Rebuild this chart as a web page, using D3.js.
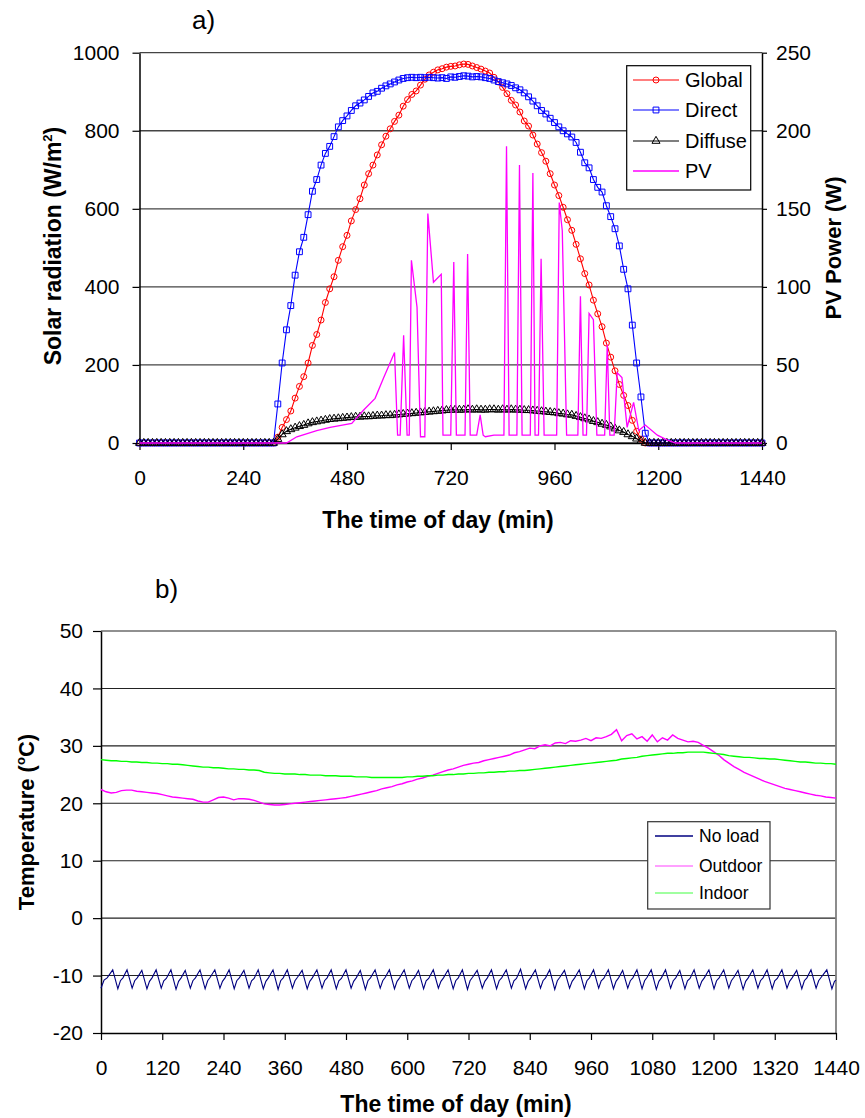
<!DOCTYPE html>
<html><head><meta charset="utf-8">
<script src="https://cdn.jsdelivr.net/npm/d3@7"></script>
<style>
body{margin:0;background:#fff;}
text{font-family:"Liberation Sans",Arial,sans-serif;fill:#000;}
</style></head><body>
<svg id="c" width="865" height="1118"></svg>
<script>
// ---------- DATA (chart a: 10-minute records, 0..1440 min) ----------
const radTicks = [0,200,400,600,800,1000];
const pvTicks = [0,50,100,150,200,250];
const timeTicksA = [0,240,480,720,960,1200,1440];
const seriesA = ["Global","Direct","Diffuse","PV"];

const globalRad = [
 0,0,0,0,0,0,0,0,0,0,0,0,
 0,0,0,0,0,0,0,0,0,0,0,0,
 0,0,0,0,0,0,0,0,15,40,60,82,
 115,145,170,205,250,278,315,360,395,426,468,503,
 532,569,598,626,661,690,712,738,764,786,805,824,
 840,863,880,893,902,917,932,943,950,956,959,963,
 965,966,969,971,970,966,962,958,953,948,937,925,
 911,895,878,866,848,825,812,789,766,744,722,690,
 661,634,604,572,545,509,472,434,405,366,331,298,
 256,220,185,150,122,96,58,30,10,0,0,0,
 0,0,0,0,0,0,0,0,0,0,0,0,
 0,0,0,0,0,0,0,0,0,0,0,0,
 0];
const directRad = [
 0,0,0,0,0,0,0,0,0,0,0,0,
 0,0,0,0,0,0,0,0,0,0,0,0,
 0,0,0,0,0,0,0,0,100,205,290,352,
 430,490,527,585,645,675,712,742,760,785,810,826,
 838,852,864,871,879,888,897,901,909,915,920,925,
 930,934,936,937,936,937,936,937,936,935,936,934,
 938,937,939,941,940,938,939,938,936,934,930,926,
 923,920,916,910,905,897,887,876,864,852,843,832,
 821,810,800,792,784,770,745,718,705,675,655,643,
 608,580,549,505,445,395,302,205,118,25,0,0,
 0,0,0,0,0,0,0,0,0,0,0,0,
 0,0,0,0,0,0,0,0,0,0,0,0,
 0];
const diffuseRad = [
 0,0,0,0,0,0,0,0,0,0,0,0,
 0,0,0,0,0,0,0,0,0,0,0,0,
 0,0,0,0,0,0,0,0,10,22,30,35,
 39,43,46,50,53,55,57,59,61,62,63,64,
 65,66,67,67,68,68,69,70,70,71,71,72,
 73,74,75,76,77,78,79,80,81,82,83,84,
 85,85,85,85,86,85,86,85,85,86,86,85,
 86,85,86,85,85,84,84,83,82,81,80,79,
 78,76,75,73,72,69,66,63,60,56,53,49,
 46,42,37,32,28,22,17,11,5,0,0,0,
 0,0,0,0,0,0,0,0,0,0,0,0,
 0,0,0,0,0,0,0,0,0,0,0,0,
 0];
// PV power (W): irregular samples
const pvTime  = [0,340,364,410,441,491,518,545,565,590,597,603,611,619,624,629,642,650,660,667,680,698,702,720,727,733,753,759,765,780,788,795,800,820,843,849,855,873,879,885,904,910,915,923,929,936,965,971,978,988,1014,1020,1026,1034,1040,1050,1058,1076,1082,1088,1098,1105,1116,1128,1143,1155,1170,1198,1220,1240,1440];
const pvPower = [0,0,4,8,10,12.6,21,28.6,42,58,5,5,69,5,5,117,87,4,4,147,103,108,5,5,116,5,5,121,5,5,18,5,4,5,5,190,5,5,178,5,5,173,5,5,118,5,5,154,136,5,5,94,5,5,83,79,5,5,63,5,5,45,42,10,26,8,11.5,5,2,0,0];

// ---------- DATA (chart b) ----------
const tempTicks = [-20,-10,0,10,20,30,40,50];
const timeTicksB = [0,120,240,360,480,600,720,840,960,1080,1200,1320,1440];
const seriesB = ["No load","Outdoor","Indoor"];
const outdoorTemp = [
 22.4,22.0,21.8,21.9,22.2,22.3,22.3,22.1,22.0,21.9,21.8,21.7,
 21.5,21.3,21.1,21.0,20.9,20.8,20.7,20.4,20.2,20.2,20.6,21.0,
 21.1,20.9,20.6,20.8,20.8,20.7,20.5,20.2,19.9,19.8,19.7,19.7,
 19.8,19.9,20.0,20.1,20.2,20.3,20.4,20.5,20.6,20.7,20.8,20.9,
 21.0,21.2,21.4,21.6,21.8,22.0,22.2,22.5,22.7,22.9,23.2,23.4,
 23.7,23.9,24.2,24.4,24.7,24.9,25.2,25.5,25.8,26.0,26.3,26.6,
 26.8,27.0,27.1,27.4,27.6,27.8,28.0,28.2,28.4,28.8,29.0,29.3,
 29.6,29.5,30.0,30.2,30.0,30.5,30.6,30.4,30.9,30.8,31.0,31.3,
 30.9,31.4,31.3,31.6,32.0,32.8,30.9,31.8,32.1,31.2,31.6,30.8,
 31.9,30.7,31.4,31.0,31.9,31.3,31.0,30.7,30.8,30.6,30.1,29.6,
 29.0,28.4,27.6,27.0,26.4,25.9,25.4,25.0,24.6,24.2,23.8,23.5,
 23.2,22.9,22.6,22.4,22.2,22.0,21.8,21.6,21.4,21.3,21.1,21.0,
 20.9];
const indoorTemp = [
 27.6,27.5,27.4,27.4,27.3,27.3,27.2,27.2,27.1,27.1,27.0,27.0,
 26.9,26.9,26.8,26.8,26.7,26.6,26.5,26.4,26.3,26.3,26.2,26.2,
 26.1,26.0,26.0,25.9,25.9,25.8,25.8,25.7,25.4,25.3,25.2,25.2,
 25.1,25.1,25.1,25.0,25.0,24.9,24.9,24.9,24.8,24.8,24.8,24.7,
 24.7,24.7,24.6,24.6,24.6,24.5,24.5,24.5,24.5,24.5,24.5,24.5,
 24.6,24.6,24.7,24.7,24.8,24.8,24.9,24.9,25.0,25.0,25.1,25.1,
 25.2,25.2,25.3,25.3,25.4,25.4,25.5,25.5,25.6,25.6,25.7,25.7,
 25.8,25.9,26.0,26.1,26.2,26.3,26.4,26.5,26.6,26.7,26.8,26.9,
 27.0,27.1,27.2,27.3,27.4,27.5,27.7,27.8,27.9,28.0,28.2,28.3,
 28.4,28.5,28.6,28.7,28.7,28.8,28.8,28.9,28.9,28.9,28.9,28.8,
 28.7,28.6,28.5,28.3,28.2,28.1,28.0,28.0,27.9,27.8,27.8,27.7,
 27.7,27.6,27.5,27.4,27.3,27.2,27.2,27.1,27.0,27.0,26.9,26.9,
 26.8];
// No-load cabinet temperature: turning points of the cycling trace [min, degC]
const noLoad = [
 [0,-12.2],[6,-10.8],[12,-10.4],
 [23,-9.0],[33,-12.3],[38,-10.9],[43,-10.4],
 [51,-9.0],[61,-12.2],[66,-10.9],[71,-10.4],
 [80,-9.1],[90,-12.3],[95,-11.0],[100,-10.4],
 [108,-9.0],[118,-12.2],[123,-10.9],[128,-10.5],
 [137,-9.0],[147,-12.4],[152,-11.0],[157,-10.4],
 [165,-9.1],[175,-12.2],[180,-10.9],[185,-10.4],
 [194,-9.0],[204,-12.3],[209,-10.9],[214,-10.3],
 [223,-9.0],[233,-12.2],[238,-11.0],[243,-10.4],
 [251,-9.0],[261,-12.3],[266,-10.9],[271,-10.4],
 [280,-9.1],[290,-12.2],[295,-10.9],[300,-10.5],
 [308,-9.0],[318,-12.3],[323,-11.0],[328,-10.4],
 [337,-9.0],[347,-12.4],[352,-10.9],[357,-10.4],
 [365,-9.0],[375,-12.2],[380,-10.9],[385,-10.3],
 [394,-9.1],[404,-12.3],[409,-11.0],[414,-10.4],
 [423,-9.0],[433,-12.2],[438,-10.9],[443,-10.4],
 [451,-9.0],[461,-12.3],[466,-10.9],[471,-10.5],
 [480,-9.0],[490,-12.2],[495,-11.0],[500,-10.4],
 [508,-9.1],[518,-12.4],[523,-10.9],[528,-10.4],
 [537,-9.0],[547,-12.2],[552,-10.9],[557,-10.3],
 [565,-9.0],[575,-12.3],[580,-11.0],[585,-10.4],
 [594,-9.0],[604,-12.2],[609,-10.9],[614,-10.4],
 [622,-9.1],[632,-12.3],[637,-10.9],[642,-10.5],
 [651,-9.0],[661,-12.2],[666,-11.0],[671,-10.4],
 [680,-9.0],[690,-12.3],[695,-10.9],[700,-10.4],
 [708,-9.0],[718,-12.4],[723,-10.9],[728,-10.3],
 [737,-9.1],[747,-12.2],[752,-11.0],[757,-10.4],
 [765,-9.0],[775,-12.3],[780,-10.9],[785,-10.4],
 [794,-9.0],[804,-12.2],[809,-10.9],[814,-10.5],
 [822,-8.9],[832,-12.3],[837,-11.0],[842,-10.4],
 [851,-9.0],[861,-12.2],[866,-10.9],[871,-10.4],
 [879,-9.0],[889,-12.4],[894,-10.9],[899,-10.3],
 [908,-9.1],[918,-12.2],[923,-11.0],[928,-10.4],
 [937,-9.0],[947,-12.3],[952,-10.9],[957,-10.4],
 [965,-9.0],[975,-12.2],[980,-10.9],[985,-10.5],
 [994,-9.0],[1004,-12.3],[1009,-11.0],[1014,-10.4],
 [1022,-9.1],[1032,-12.2],[1037,-10.9],[1042,-10.4],
 [1050,-9.0],[1060,-12.3],[1065,-10.9],[1070,-10.3],
 [1078,-9.0],[1088,-12.4],[1093,-11.0],[1098,-10.4],
 [1106,-9.0],[1116,-12.2],[1121,-10.9],[1126,-10.4],
 [1134,-9.1],[1144,-12.3],[1149,-10.9],[1154,-10.5],
 [1162,-9.0],[1172,-12.2],[1177,-11.0],[1182,-10.4],
 [1191,-9.0],[1201,-12.3],[1206,-10.9],[1211,-10.4],
 [1220,-9.0],[1230,-12.2],[1235,-10.9],[1240,-10.3],
 [1248,-9.1],[1258,-12.4],[1263,-11.0],[1268,-10.4],
 [1277,-9.0],[1287,-12.2],[1292,-10.9],[1297,-10.4],
 [1305,-9.0],[1315,-12.3],[1320,-10.9],[1325,-10.5],
 [1334,-9.0],[1344,-12.2],[1349,-11.0],[1354,-10.4],
 [1363,-9.1],[1373,-12.3],[1378,-10.9],[1383,-10.4],
 [1391,-9.0],[1401,-12.2],[1406,-10.9],[1411,-10.3],
 [1422,-9.0],[1432,-12.3],[1437,-11.0],[1440,-10.8]];

// ---------- DRAWING ----------
const svg = d3.select("#c");
const step10 = d3.range(0, 1441, 10);
const TICK_FONT = 21;
const fmt = d => String(d);

// ---- chart a ----
const xA = d3.scaleLinear([0,1440],[139.5,762]);
const yA = d3.scaleLinear([0,1000],[443,52.7]);
const yP = d3.scaleLinear([0,250],[443,52.7]);
const gA = svg.append("g");

gA.append("g").selectAll("line").data(radTicks).join("line")
  .attr("x1", xA(0)).attr("x2", xA(1440))
  .attr("y1", d=>yA(d)).attr("y2", d=>yA(d))
  .attr("stroke","#444").attr("stroke-width",1.3);

function styleAxis(g){
  g.selectAll("text").attr("font-size",TICK_FONT).attr("font-family","Liberation Sans, Arial, sans-serif").attr("fill","#000");
  g.selectAll("line").attr("stroke","#000").attr("stroke-width",1.2);
  g.select(".domain").attr("stroke","#000").attr("stroke-width",1.5);
}
gA.append("g").attr("transform",`translate(${xA(0)},0)`)
  .call(d3.axisLeft(yA).tickValues(radTicks).tickFormat(fmt).tickSize(7).tickSizeOuter(0).tickPadding(13))
  .call(styleAxis);
gA.append("g").attr("transform",`translate(${xA(1440)},0)`)
  .call(d3.axisRight(yP).tickValues(pvTicks).tickFormat(fmt).tickSize(5).tickSizeOuter(0).tickPadding(9))
  .call(styleAxis);
gA.append("g").attr("transform",`translate(0,${yA(0)})`)
  .call(d3.axisBottom(xA).tickValues(timeTicksA).tickFormat(fmt).tickSize(7).tickSizeOuter(0).tickPadding(20))
  .call(styleAxis);

const lineA = d3.line().x((d,i)=>xA(step10[i])).y(d=>yA(d));
const seriesDefsA = [
  {name:"Global", data:globalRad, color:"#ff0000", marker:"circle"},
  {name:"Direct", data:directRad, color:"#0000ff", marker:"square"},
  {name:"Diffuse", data:diffuseRad, color:"#000000", marker:"triangle"}
];
const symbolOf = {circle:d3.symbolCircle, square:d3.symbolSquare, triangle:d3.symbolTriangle};
const sizeOf = {circle:28, square:34, triangle:28};
seriesDefsA.forEach(s=>{
  gA.append("path").datum(s.data).attr("d",lineA)
    .attr("fill","none").attr("stroke",s.color).attr("stroke-width",1.1);
  gA.append("g").selectAll("path").data(s.data).join("path")
    .attr("transform",(d,i)=>`translate(${xA(step10[i])},${yA(d)})`)
    .attr("d", d3.symbol(symbolOf[s.marker], sizeOf[s.marker]))
    .attr("fill","none").attr("stroke",s.color).attr("stroke-width",1);
});
gA.append("path").datum(pvTime.map((t,i)=>[t,pvPower[i]]))
  .attr("d", d3.line().x(d=>xA(d[0])).y(d=>yP(d[1])))
  .attr("fill","none").attr("stroke","#ff00ff").attr("stroke-width",1.3);

// legend a
const legA = gA.append("g");
legA.append("rect").attr("x",626.7).attr("y",65.7).attr("width",124).attr("height",124.3)
  .attr("fill","#fff").attr("stroke","#000").attr("stroke-width",1.2);
const legAy = [80,110,141,171];
const legAdefs = [
  {c:"#ff0000", m:"circle"},{c:"#0000ff", m:"square"},{c:"#000000", m:"triangle"},{c:"#ff00ff", m:null}];
seriesA.forEach((name,i)=>{
  const y = legAy[i], d = legAdefs[i];
  legA.append("line").attr("x1",633).attr("x2",679).attr("y1",y).attr("y2",y)
    .attr("stroke",d.c).attr("stroke-width", d.m ? 1.1 : 1.5);
  if (d.m) legA.append("path").attr("transform",`translate(656,${y})`)
    .attr("d", d3.symbol(symbolOf[d.m], sizeOf[d.m])).attr("fill","none").attr("stroke",d.c);
  legA.append("text").attr("x",685).attr("y",y+7).attr("font-size",20).text(name);
});

// titles a
svg.append("text").attr("x",192).attr("y",29).attr("font-size",26).text("a)");
const tA = svg.append("text").attr("transform","translate(53,246) rotate(-90)")
  .attr("text-anchor","middle").attr("dy","0.35em").attr("font-size",23).attr("font-weight","bold");
tA.append("tspan").text("Solar radiation (W/m");
tA.append("tspan").attr("font-size",13).attr("dy",-9).text("2");
tA.append("tspan").attr("dy",9).text(")");
svg.append("text").attr("transform","translate(833,248) rotate(-90)")
  .attr("text-anchor","middle").attr("dy","0.35em").attr("font-size",22).attr("font-weight","bold")
  .text("PV Power (W)");
svg.append("text").attr("x",438).attr("y",528).attr("text-anchor","middle")
  .attr("font-size",23).attr("font-weight","bold").text("The time of day (min)");

// ---- chart b ----
const xB = d3.scaleLinear([0,1440],[101,836]);
const yB = d3.scaleLinear([-20,50],[1033,631]);
const gB = svg.append("g");
gB.append("g").selectAll("line").data(tempTicks.filter(d=>d>-20)).join("line")
  .attr("x1", xB(0)).attr("x2", xB(1440))
  .attr("y1", d=>yB(d)).attr("y2", d=>yB(d))
  .attr("stroke","#222").attr("stroke-width",1.1);
gB.append("line").attr("x1",xB(1440)).attr("x2",xB(1440)).attr("y1",yB(50)).attr("y2",yB(-20))
  .attr("stroke","#808080").attr("stroke-width",1.8);
gB.append("g").attr("transform",`translate(${xB(0)},0)`)
  .call(d3.axisLeft(yB).tickValues(tempTicks).tickFormat(fmt).tickSize(8).tickSizeOuter(0).tickPadding(10))
  .call(styleAxis);
gB.append("g").attr("transform",`translate(0,${yB(-20)})`)
  .call(d3.axisBottom(xB).tickValues(timeTicksB).tickFormat(fmt).tickSize(7).tickSizeOuter(0).tickPadding(20))
  .call(styleAxis);

const lineB = d3.line().x((d,i)=>xB(step10[i])).y(d=>yB(d));
gB.append("path").datum(noLoad)
  .attr("d", d3.line().x(d=>xB(d[0])).y(d=>yB(d[1])))
  .attr("fill","none").attr("stroke","#000080").attr("stroke-width",1.1);
gB.append("path").datum(outdoorTemp).attr("d",lineB)
  .attr("fill","none").attr("stroke","#ff00ff").attr("stroke-width",1.4);
gB.append("path").datum(indoorTemp).attr("d",lineB)
  .attr("fill","none").attr("stroke","#00ff00").attr("stroke-width",1.4);

// legend b
const legB = gB.append("g");
legB.append("rect").attr("x",647.7).attr("y",821.7).attr("width",122.3).attr("height",87.3)
  .attr("fill","#fff").attr("stroke","#333").attr("stroke-width",1.2);
const legBy = [836,866,893];
const legBc = ["#000080","#ff80ff","#80ff80"];
seriesB.forEach((name,i)=>{
  legB.append("line").attr("x1",655).attr("x2",693).attr("y1",legBy[i]).attr("y2",legBy[i])
    .attr("stroke",legBc[i]).attr("stroke-width",1.3);
  legB.append("text").attr("x",699).attr("y",legBy[i]+6).attr("font-size",17.5).text(name);
});

// titles b
svg.append("text").attr("x",155).attr("y",598).attr("font-size",26).text("b)");
const tB = svg.append("text").attr("transform","translate(26,822) rotate(-90)")
  .attr("text-anchor","middle").attr("dy","0.35em").attr("font-size",22).attr("font-weight","bold");
tB.append("tspan").text("Temperature (");
tB.append("tspan").attr("font-size",13).attr("dy",-9).text("o");
tB.append("tspan").attr("dy",9).text("C)");
svg.append("text").attr("x",456).attr("y",1112).attr("text-anchor","middle")
  .attr("font-size",23).attr("font-weight","bold").text("The time of day (min)");
</script>
</body></html>
